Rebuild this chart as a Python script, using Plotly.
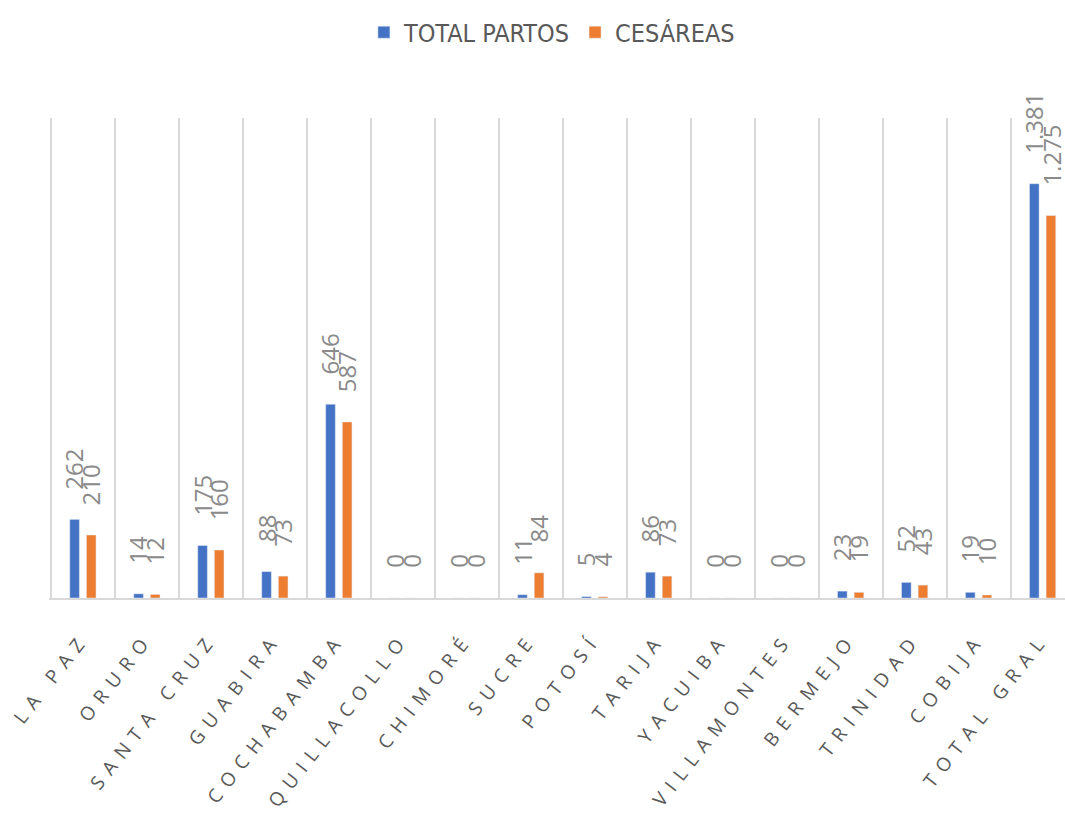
import plotly.graph_objects as go

categories = ["LA PAZ", "ORURO", "SANTA CRUZ", "GUABIRA", "COCHABAMBA", "QUILLACOLLO",
              "CHIMORÉ", "SUCRE", "POTOSÍ", "TARIJA", "YACUIBA", "VILLAMONTES",
              "BERMEJO", "TRINIDAD", "COBIJA", "TOTAL GRAL"]
total_partos = [262, 14, 175, 88, 646, 0, 0, 11, 5, 86, 0, 0, 23, 52, 19, 1381]
cesareas = [210, 12, 160, 73, 587, 0, 0, 84, 4, 73, 0, 0, 19, 43, 10, 1275]

BLUE = "#4472C4"
ORANGE = "#ED7D31"
LABEL_GRAY = "#8a8a8a"
TICK_GRAY = "#595959"


def fmt(v):
    return f"{v:,}".replace(",", ".")


fig = go.Figure()
fig.add_trace(go.Bar(name="TOTAL PARTOS", x=categories, y=total_partos, marker_color=BLUE))
fig.add_trace(go.Bar(name="CESÁREAS", x=categories, y=cesareas, marker_color=ORANGE))

annotations = []
for series, shift in ((total_partos, -9), (cesareas, 8)):
    for c, v in zip(categories, series):
        annotations.append(dict(
            x=c, y=v, xref="x", yref="y", text=fmt(v), showarrow=False,
            textangle=-90, xanchor="center", yanchor="bottom",
            xshift=shift, yshift=28,
            font=dict(family="Open Sans, DejaVu Sans", size=24, color=LABEL_GRAY),
        ))

ticktext = [f'<span style="letter-spacing:8px">{c}</span>' for c in categories]

fig.update_layout(
    width=1065, height=831,
    paper_bgcolor="white", plot_bgcolor="white",
    margin=dict(l=49, r=0, t=118, b=233, autoexpand=False),
    barmode="group", bargap=0.48, bargroupgap=0.42,
    showlegend=True,
    legend=dict(orientation="h", x=0.495, xanchor="center", y=0.961, yanchor="middle",
                yref="container",
                font=dict(family="Liberation Sans Narrow, DejaVu Sans Condensed, Roboto", size=25, color=TICK_GRAY),
                itemwidth=30, traceorder="normal"),
    annotations=annotations,
    xaxis=dict(
        type="category", range=[-0.53, 15.35],
        tickson="boundaries", showgrid=True, gridcolor="#d9d9d9", gridwidth=2,
        showline=True, linecolor="#d9d9d9", linewidth=2, ticks="",
        tickvals=categories, ticktext=ticktext,
        tickangle=-52, ticklabelstandoff=20,
        tickfont=dict(family="Open Sans, DejaVu Sans", size=19, color=TICK_GRAY),
        automargin=False,
    ),
    yaxis=dict(range=[0, 1600], showgrid=False, zeroline=False, showticklabels=False,
               showline=False, ticks=""),
)

fig.write_html("out.html", config={"displayModeBar": False},
               post_script="document.body.style.margin='0';document.body.style.overflow='hidden';")
